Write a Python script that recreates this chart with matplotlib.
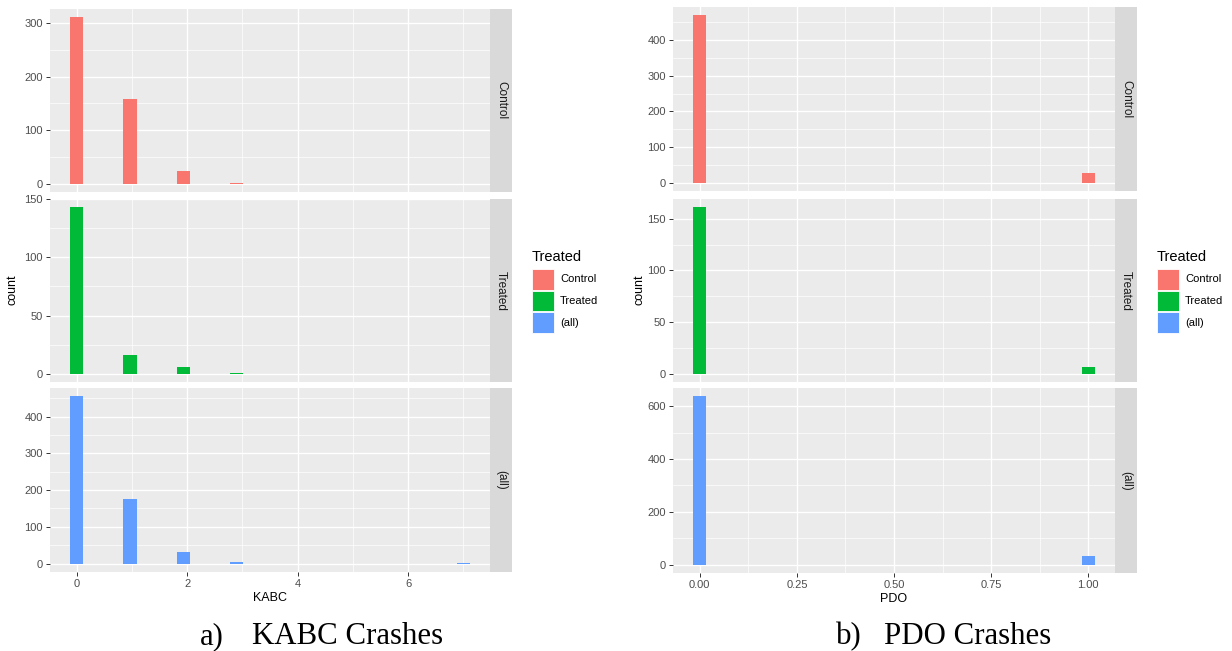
import numpy as np
import matplotlib
matplotlib.use("Agg")
import matplotlib.pyplot as plt
from matplotlib.patches import Rectangle

W, H = 1232, 651

# facet groups and fill colours (ggplot defaults)
groups = ["Control", "Treated", "(all)"]
fills = ["#F8766D", "#00BA38", "#619CFF"]

# KABC crashes: counts per value
kabc_values = [0, 1, 2, 3, 7]
kabc_control = [311, 159, 23, 1, 0]
kabc_treated = [143, 16, 6, 1, 0]
kabc_all = [455, 176, 31, 4, 1]
kabc_xticks = [0, 2, 4, 6]
kabc_yticks = [[0, 100, 200, 300], [0, 50, 100, 150], [0, 100, 200, 300, 400]]

# PDO crashes: counts per value
pdo_values = [0, 1]
pdo_control = [470, 27]
pdo_treated = [161, 6]
pdo_all = [637, 34]
pdo_xticks = [0, 0.25, 0.5, 0.75, 1.0]
pdo_xticklabels = ["0.00", "0.25", "0.50", "0.75", "1.00"]
pdo_yticks = [[0, 100, 200, 300, 400], [0, 50, 100, 150], [0, 200, 400, 600]]

captions = [("a)", "KABC Crashes"), ("b)", "PDO Crashes")]

SANS = ["Liberation Sans", "DejaVu Sans"]
SERIF = ["Liberation Serif", "DejaVu Serif"]
plt.rcParams["font.family"] = SANS

fig = plt.figure(figsize=(W / 100, H / 100), dpi=100)


def px_axes(x0, y0, x1, y1):
    return fig.add_axes([x0 / W, 1 - y1 / H, (x1 - x0) / W, (y1 - y0) / H])


def minors(ticks, lo, hi):
    step = ticks[1] - ticks[0]
    m = np.arange(ticks[0] - step / 2, hi + step, step)
    return [v for v in m if lo < v < hi]


def facet_column(x0, x1, rows, values, series, xticks, xticklabels, yticks, xlabel):
    lo, hi = min(values), max(values)
    bw = (hi - lo) / 29.0
    centers = [lo + round((v - lo) / bw) * bw for v in values]
    span = hi - lo + bw
    xlim = (lo - bw / 2 - 0.05 * span, hi + bw / 2 + 0.05 * span)

    for i, (y0, y1) in enumerate(rows):
        ax = px_axes(x0, y0, x1, y1)
        ax.set_facecolor("#EBEBEB")
        for s in ax.spines.values():
            s.set_visible(False)
        counts = series[i]
        top = max(counts)
        ax.bar(centers, counts, width=bw, color=fills[i], linewidth=0, zorder=3)
        ax.set_xlim(*xlim)
        ax.set_ylim(-0.05 * top, 1.05 * top)

        ax.set_xticks(xticks)
        ax.set_xticks(minors(xticks, *xlim), minor=True)
        ax.set_yticks(yticks[i])
        ax.set_yticks(minors(yticks[i], -0.05 * top, 1.05 * top), minor=True)
        ax.grid(which="major", color="white", linewidth=1.0, zorder=0)
        ax.grid(which="minor", color="white", linewidth=0.5, zorder=0)
        ax.set_axisbelow(True)
        ax.tick_params(which="minor", length=0)
        ax.tick_params(which="major", length=3, width=0.7, color="#333333",
                       labelcolor="#4D4D4D", labelsize=8, pad=2)
        if i == len(rows) - 1:
            ax.set_xticklabels(xticklabels)
            ax.set_xlabel(xlabel, fontsize=9, color="black", labelpad=2)
        else:
            ax.tick_params(axis="x", length=0, labelbottom=False)

        # facet strip on the right
        st = px_axes(x1, y0, x1 + 22, y1)
        st.set_facecolor("#D9D9D9")
        st.set_xticks([])
        st.set_yticks([])
        for s in st.spines.values():
            s.set_visible(False)
        st.text(0.5, 0.5, groups[i], rotation=270, ha="center", va="center",
                fontsize=8.5, color="#1A1A1A", transform=st.transAxes)


def legend(x, y_title):
    fig.text(x / W, 1 - y_title / H, "Treated", fontsize=10.5, color="black",
             ha="left", va="center")
    for i, g in enumerate(groups):
        ky = 269 + i * 21.5
        fig.patches.append(Rectangle((x / W, 1 - (ky + 20.5) / H), 21.5 / W, 20.5 / H,
                                     facecolor=fills[i], edgecolor="white",
                                     linewidth=0.6, transform=fig.transFigure))
        fig.text((x + 28) / W, 1 - (ky + 10.5) / H, g, fontsize=8, color="black",
                 ha="left", va="center")


# left: KABC
facet_column(50, 490, [(9, 192), (199, 382), (388, 572)], kabc_values,
             [kabc_control, kabc_treated, kabc_all], kabc_xticks,
             [str(t) for t in kabc_xticks], kabc_yticks, "KABC")
fig.text(12 / W, 1 - 290 / H, "count", rotation=90, fontsize=9,
         ha="center", va="center")
legend(532, 257)

# right: PDO
facet_column(673, 1115, [(7, 191), (199, 382), (388, 573)], pdo_values,
             [pdo_control, pdo_treated, pdo_all], pdo_xticks,
             pdo_xticklabels, pdo_yticks, "PDO")
fig.text(639 / W, 1 - 290 / H, "count", rotation=90, fontsize=9,
         ha="center", va="center")
legend(1157, 257)

# captions below each chart
for (lab, title), (xa, xt) in zip(captions, [(200, 252), (836, 884)]):
    fig.text(xa / W, 1 - 644 / H, lab, family=SERIF, fontsize=22.2,
             ha="left", va="baseline")
    fig.text(xt / W, 1 - 644 / H, title, family=SERIF, fontsize=22.2,
             ha="left", va="baseline")

fig.savefig("out.png", dpi=100, facecolor="white")
